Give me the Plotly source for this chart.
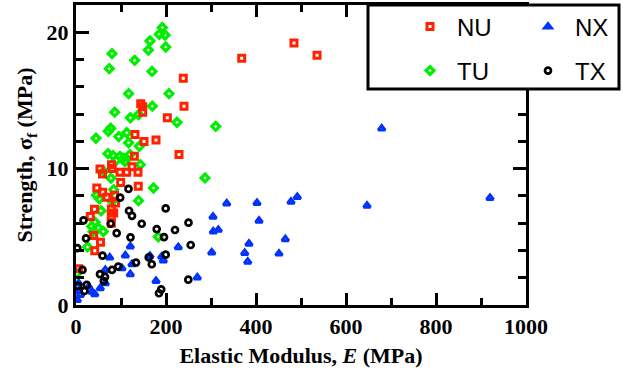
import plotly.graph_objects as go

# ---- data (Elastic modulus E in MPa, strength sigma_f in MPa) ----
NU_E = [6, 41.6, 54.4, 39.3, 31.8, 41, 78.4, 78.4, 78.4, 83.8, 87.8, 85.6, 68.4, 59.3, 46.2,
        99.3, 138.4, 53.3, 58.9, 78.9, 80.4, 97.8, 112.7, 124.4, 137.8, 129.6, 228.9, 131.1,
        151.1, 177.8, 202.9, 143.8, 148.2, 148.2, 240, 238.4, 368.2, 484.4, 535.6]
NU_S = [2.65, 3.97, 4.6, 5.1, 6.49, 7.02, 7.04, 6.49, 6.0, 6.74, 7.48, 8.05, 7.9, 8.26, 8.58,
        8.99, 8.7, 9.98, 9.61, 10.29, 10.01, 9.73, 9.74, 10.13, 9.73, 10.9, 11.03, 12.5,
        11.99, 12.1, 13.73, 14.76, 14.54, 14.14, 14.58, 16.62, 18.09, 19.21, 18.31]

NX_E = [3, 9.6, 6, 6, 28.2, 35.6, 41.6, 54, 65.1, 65.1, 102.2, 120.7, 124.4, 74.9, 109.6,
        120.7, 164.4, 190.4, 194, 177.8, 227.3, 269.6, 301.6, 305.1, 316.2, 304.4, 334.9,
        406.7, 402.2, 477.8, 491.8, 465.1, 384.4, 374.9, 381.6, 451.1, 646.7, 679.3, 920]
NX_S = [0.37, 0.74, 1.03, 1.6, 1.35, 0.98, 0.79, 1.23, 1.6, 2.57, 2.7, 2.26, 2.99, 3.48, 3.63,
        4.29, 3.6, 3.55, 3.27, 1.76, 4.24, 2.02, 3.85, 5.39, 5.51, 6.47, 7.45,
        6.18, 7.48, 7.57, 7.92, 4.83, 4.49, 3.82, 3.18, 3.77, 7.28, 12.94, 7.85]

TU_E = [191.8, 185, 197.8, 164.4, 160.7, 199.3, 80, 130.4, 74, 168.9, 117, 206.7, 86, 169.6,
        120.7, 139.3, 224.4, 310.4, 44.4, 71.8, 77, 95, 112.7, 117, 140.7, 286.7, 172.2,
        71.1, 82.2, 97.8, 105.6, 120, 88.9, 108.9, 142.9, 61.6, 77.8, 83.8, 45.6, 51.8, 80,
        138.9, 55.6, 34.9, 42.2, 49.6, 60.7, 37.8, 25.6, 182.9, 1.8]
TU_S = [20.35, 19.85, 19.8, 19.36, 18.7, 18.92, 18.43, 17.94, 17.33, 17.13, 15.5, 15.5, 14.14,
        14.58, 13.73, 13.97, 13.4, 13.1, 12.23, 12.74, 12.96, 12.35, 12.63, 11.9, 11.64, 9.32,
        8.58, 11.1, 10.96, 10.9, 10.77, 11.03, 10.59, 10.51, 10.29, 9.8, 9.3, 8.46, 8.05, 7.79,
        7.6, 7.65, 6.91, 5.76, 6.07, 5.66, 5.39, 5.37, 4.26, 5.0, 2.32]

TX_E = [2.9, 16.7, 22.2, 14.4, 23.8, 18.9, 4.4, 58.9, 53.3, 64.4, 61.8, 80, 93.8, 133.3, 77.1,
        90.4, 121.1, 146, 116.7, 98.2, 117.8, 124.4, 161.6, 168.4, 179.3, 199.3, 195.6, 199.3,
        220, 250, 254.9, 249.6, 189.3, 184.4]
TX_S = [4.17, 6.21, 4.89, 2.57, 1.47, 1.03, 1.4, 3.62, 2.26, 2.06, 1.76, 2.57, 2.82, 3.11, 5.96,
        5.27, 4.96, 5.96, 8.51, 7.87, 6.91, 6.54, 3.49, 2.99, 5.57, 7.08, 4.98, 3.69,
        5.5, 6.04, 4.4, 1.86, 1.15, 0.86]

X_RANGE = [0, 1000]
Y_RANGE = [0, 22]

RED = "#ff2200"
GREEN = "#00ee00"
BLUE = "#0033ff"
BLACK = "#000000"

fig = go.Figure()

fig.add_trace(go.Scatter(x=TU_E, y=TU_S, mode="markers", name="TU", legend="legend3",
                         marker=dict(symbol="diamond-open", size=6, color=GREEN,
                                     line=dict(width=3.2, color=GREEN))))
fig.add_trace(go.Scatter(x=NU_E, y=NU_S, mode="markers", name="NU", legend="legend",
                         marker=dict(symbol="square-open", size=6, color=RED,
                                     line=dict(width=3, color=RED))))
fig.add_trace(go.Scatter(x=NX_E, y=NX_S, mode="markers", name="NX", legend="legend2",
                         marker=dict(symbol="triangle-up-open", size=6, color=BLUE,
                                     line=dict(width=3, color=BLUE))))
fig.add_trace(go.Scatter(x=TX_E, y=TX_S, mode="markers", name="TX", legend="legend4",
                         marker=dict(symbol="circle-open", size=6, color=BLACK,
                                     line=dict(width=2.7, color=BLACK))))

serif_bold = dict(family="Liberation Serif", size=22, color="black", weight="bold")
leg_font = dict(family="Liberation Sans", size=24, color="black")

def px_x(px):
    return (px - 76) / 450.0

def px_y(py):
    return (305 - py) / 300.0

def leg(px, py):
    return dict(x=px_x(px), y=px_y(py), xanchor="left", yanchor="middle",
                bgcolor="rgba(0,0,0,0)", borderwidth=0, font=leg_font, itemwidth=44)

fig.update_layout(
    width=623, height=373,
    margin=dict(l=76, r=97, t=5, b=68, autoexpand=False),
    paper_bgcolor="white", plot_bgcolor="white",
    showlegend=True,
    legend=leg(403, 27),
    legend2=leg(521, 27),
    legend3=leg(403, 71),
    legend4=leg(521, 71),
    xaxis=dict(
        range=X_RANGE, dtick=200, tick0=0, ticks="inside", ticklen=12, tickwidth=3,
        tickcolor="black", showline=True, linewidth=3, linecolor="black", mirror="ticks",
        showgrid=False, zeroline=False, tickfont=serif_bold, automargin=False,
        minor=dict(dtick=100, ticks="inside", ticklen=7, tickwidth=3, tickcolor="black",
                   showgrid=False),
        title=dict(text="Elastic Modulus, <i>E</i> (MPa)", font=serif_bold, standoff=10),
    ),
    yaxis=dict(
        range=Y_RANGE, dtick=10, tick0=0, ticks="inside", ticklen=13, tickwidth=3,
        tickcolor="black", showline=True, linewidth=3, linecolor="black", mirror="ticks",
        showgrid=False, zeroline=False, tickfont=serif_bold, automargin=False,
        minor=dict(dtick=2, ticks="inside", ticklen=8, tickwidth=3, tickcolor="black",
                   showgrid=False),
        title=dict(text="Strength, σ<sub>f</sub> (MPa)", font=serif_bold, standoff=8),
    ),
    shapes=[dict(type="rect", xref="paper", yref="paper",
                 x0=px_x(368), x1=px_x(619), y0=px_y(89), y1=px_y(5),
                 line=dict(color="black", width=3), fillcolor="white", layer="above")],
)

fig.write_html("out.html", config={"displayModeBar": False},
               post_script="document.body.style.margin='0px';document.body.style.overflow='hidden';")
